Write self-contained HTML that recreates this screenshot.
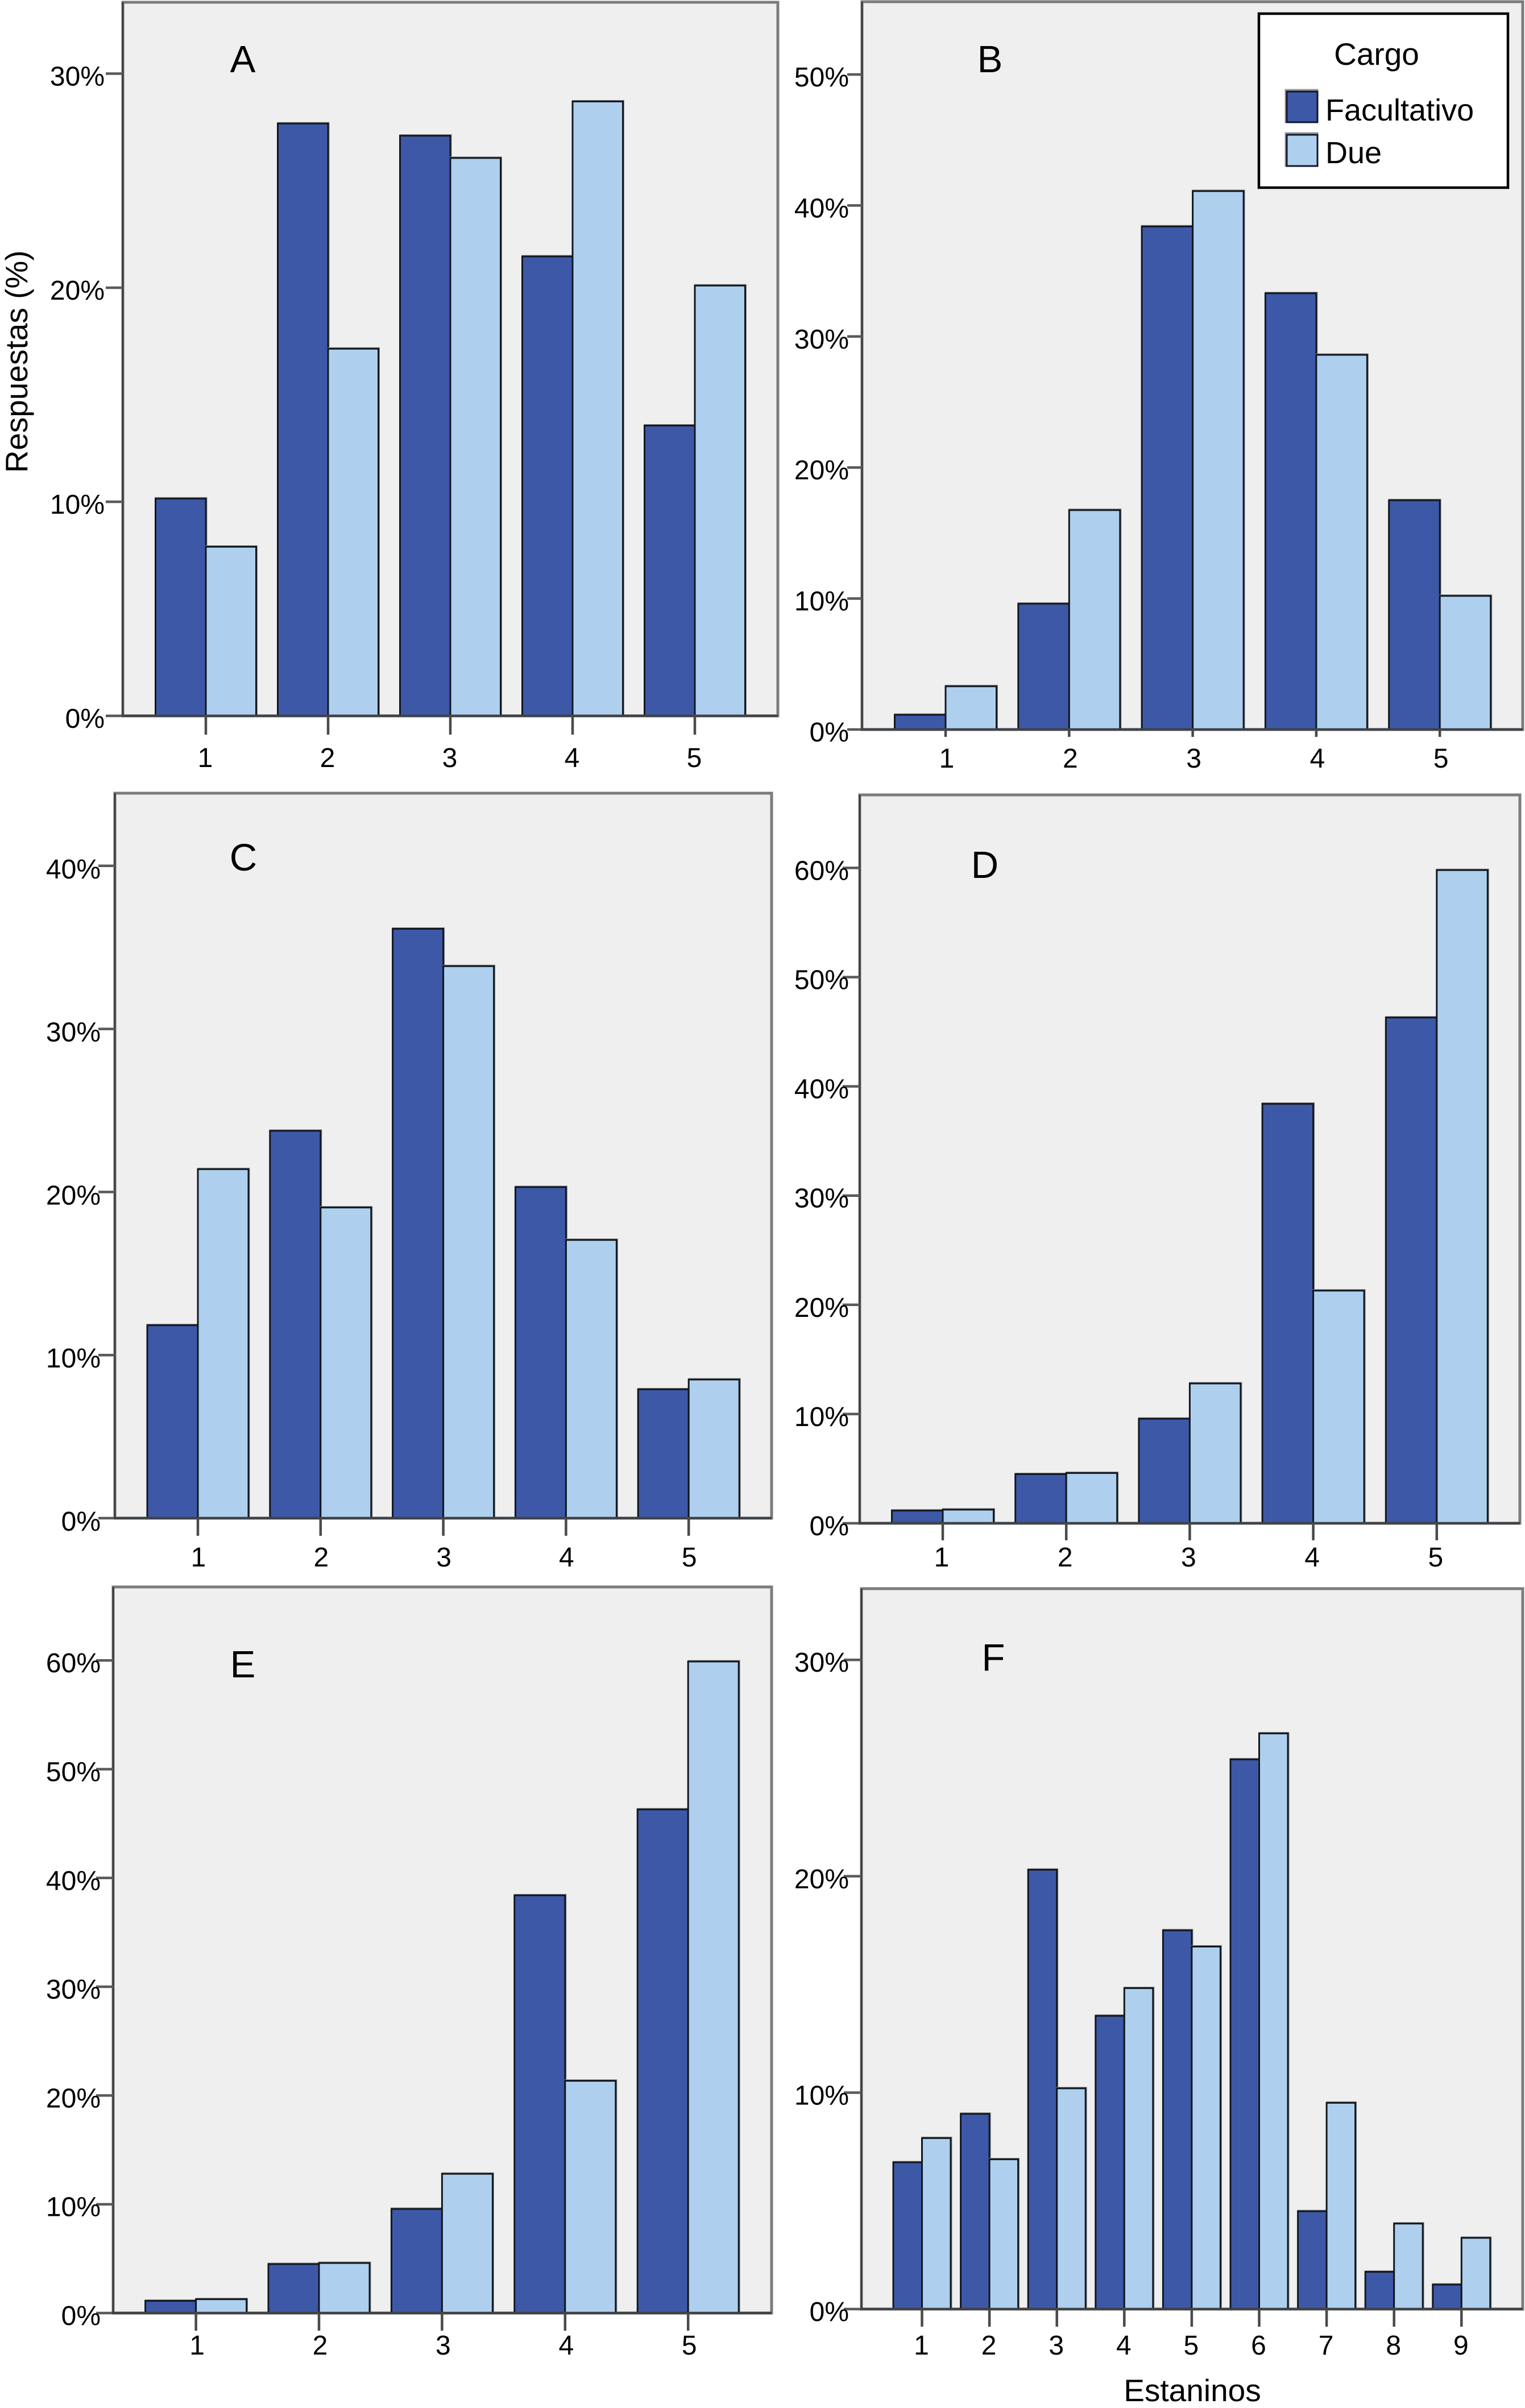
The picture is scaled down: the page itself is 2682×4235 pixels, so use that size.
<!DOCTYPE html>
<html lang="es">
<head>
<meta charset="utf-8">
<title>Respuestas por estaninos y cargo</title>
<style>
html,body{margin:0;padding:0;background:#fff;}
svg{display:block;font-family:"Liberation Sans",Arial,sans-serif;fill:#000;}
</style>
</head>
<body>
<svg id="chart" xmlns="http://www.w3.org/2000/svg" width="2682" height="4235" viewBox="0 0 2682 4235">
  <rect x="0" y="0" width="2682" height="4235" fill="#ffffff"/>
  <g id="plots"></g>

  <text x="427" y="127" font-size="67" text-anchor="middle">A</text>
  <text x="1741" y="127" font-size="67" text-anchor="middle">B</text>
  <text x="428" y="1531" font-size="67" text-anchor="middle">C</text>
  <text x="1732" y="1544" font-size="67" text-anchor="middle">D</text>
  <text x="427" y="2950" font-size="67" text-anchor="middle">E</text>
  <text x="1747" y="2938" font-size="67" text-anchor="middle">F</text>

  <text x="0" y="0" font-size="55" text-anchor="middle" transform="translate(48 636) rotate(-90)">Respuestas (%)</text>
  <text x="2097" y="4223" font-size="55" text-anchor="middle">Estaninos</text>

  <g>
    <rect x="2214" y="24" width="438" height="306" fill="#ffffff" stroke="#000000" stroke-width="4.5"/>
    <text x="2421" y="114" font-size="55" text-anchor="middle">Cargo</text>
    <rect x="2261" y="158" width="56" height="57" fill="none" stroke="#999999" stroke-width="3"/>
    <rect x="2263" y="161" width="54" height="54" fill="#3e58a8" stroke="#101828" stroke-width="3"/>
    <text x="2331" y="212" font-size="54">Facultativo</text>
    <rect x="2261" y="234" width="56" height="58" fill="none" stroke="#999999" stroke-width="3"/>
    <rect x="2263" y="237" width="54" height="55" fill="#aed0ee" stroke="#101828" stroke-width="3"/>
    <text x="2331" y="287" font-size="54">Due</text>
  </g>
</svg>
<script>
// ---- Data (percent of responses) ----
const categoriesFive = ['1', '2', '3', '4', '5'];
const categoriesNine = ['1', '2', '3', '4', '5', '6', '7', '8', '9'];

const ticksA = [0, 10, 20, 30];
const ticksB = [0, 10, 20, 30, 40, 50];
const ticksC = [0, 10, 20, 30, 40];
const ticksD = [0, 10, 20, 30, 40, 50, 60];
const ticksE = [0, 10, 20, 30, 40, 50, 60];
const ticksF = [0, 10, 20, 30];

const facultativoA = [10.15, 27.67, 27.1, 21.46, 13.56];
const dueA = [7.9, 17.15, 26.06, 28.7, 20.1];

const facultativoB = [1.12, 9.6, 38.4, 33.3, 17.5];
const dueB = [3.3, 16.75, 41.1, 28.6, 10.2];

const facultativoC = [11.83, 23.75, 36.14, 20.3, 7.9];
const dueC = [21.4, 19.05, 33.85, 17.06, 8.5];

const facultativoD = [1.16, 4.5, 9.57, 38.4, 46.3];
const dueD = [1.25, 4.6, 12.8, 21.3, 59.8];

const facultativoE = [1.12, 4.5, 9.57, 38.4, 46.3];
const dueE = [1.27, 4.6, 12.8, 21.35, 59.9];

const facultativoF = [6.78, 9.02, 20.3, 13.55, 17.5, 25.4, 4.52, 1.72, 1.13];
const dueF = [7.9, 6.92, 10.2, 14.83, 16.75, 26.6, 9.53, 3.95, 3.29];

// ---- Panel geometry (not data) ----
const panels = [
  {id:'a', left:216,  right:1368, top:4,    base:1259, per10:376.5, c1:362,  step:215,   bw:88.5, cats:categoriesFive, ticks:ticksA, f:facultativoA, d:dueA, tickLen:30, xTick:33, labelRight:184,  labelDy:21, xLabelDy:90,  xLabelDx:-1},
  {id:'b', left:1516, right:2678, top:3,    base:1283, per10:230.4, c1:1663, step:217.3, bw:89.5, cats:categoriesFive, ticks:ticksB, f:facultativoB, d:dueB, tickLen:26, xTick:13, labelRight:1493, labelDy:21, xLabelDy:67,  xLabelDx:2},
  {id:'c', left:202,  right:1357, top:1395, base:2670, per10:286.8, c1:348,  step:215.8, bw:89,   cats:categoriesFive, ticks:ticksC, f:facultativoC, d:dueC, tickLen:29, xTick:31, labelRight:177,  labelDy:22, xLabelDy:85,  xLabelDx:1},
  {id:'d', left:1512, right:2673, top:1398, base:2679, per10:192.1, c1:1658, step:217.2, bw:89.5, cats:categoriesFive, ticks:ticksD, f:facultativoD, d:dueD, tickLen:30, xTick:30, labelRight:1493, labelDy:21, xLabelDy:76,  xLabelDx:-2},
  {id:'e', left:199,  right:1357, top:2791, base:4068, per10:191.3, c1:344.6, step:216.4, bw:89,  cats:categoriesFive, ticks:ticksE, f:facultativoE, d:dueE, tickLen:30, xTick:31, labelRight:177,  labelDy:21, xLabelDy:73,  xLabelDx:2},
  {id:'f', left:1515, right:2678, top:2794, base:4061, per10:380.6, c1:1621.5, step:118.6, bw:50.5, cats:categoriesNine, ticks:ticksF, f:facultativoF, d:dueF, tickLen:31, xTick:31, labelRight:1493, labelDy:21, xLabelDy:80,  xLabelDx:-1}
];

const NS = 'http://www.w3.org/2000/svg';
const root = document.getElementById('plots');

function make(tag, attrs, parent) {
  const el = document.createElementNS(NS, tag);
  for (const k in attrs) el.setAttribute(k, attrs[k]);
  parent.appendChild(el);
  return el;
}

function yScale(p, v) { return p.base - v / 10 * p.per10; }
function xScale(p, i) { return p.c1 + i * p.step; }

function drawBar(p, g, i, values, side, fill, seriesName) {
  const cx = xScale(p, i);
  const x = side === 0 ? cx - p.bw : cx;
  const y = yScale(p, values[i]);
  const h = p.base - y;
  const shadow = make('rect', {x: x, y: y - 1.5, width: p.bw + 1.5, height: h + 1.5, fill: 'none', stroke: '#8a8a8a', 'stroke-width': 2}, g);
  
  
  const bar = make('rect', {x: x, y: y, width: p.bw, height: h, fill: fill, stroke: '#111820', 'stroke-width': 3}, g);
  
  
}

function drawPanel(p) {
  const g = make('g', {}, root);
  
  

  const frame = make('rect', {x: p.left, y: p.top, width: p.right - p.left, height: p.base - p.top, fill: '#efefef', stroke: '#7c7c7c', 'stroke-width': 5}, g);
  
  

  const yAxis = make('line', {x1: p.left, x2: p.left, y1: p.top, y2: p.base, stroke: '#3a3a3a', 'stroke-width': 3}, g);
  
  

  p.ticks.forEach(function (t) {
    const y = yScale(p, t);
    const tick = make('line', {x1: p.left - p.tickLen, x2: p.left, y1: y, y2: y, stroke: '#5a5a5a', 'stroke-width': 4.5}, g);
    
    
    const label = make('text', {x: p.labelRight, y: y + p.labelDy, 'font-size': 48, 'text-anchor': 'end'}, g);
    label.textContent = t + '%';
    
    
  });

  p.cats.forEach(function (c, i) {
    drawBar(p, g, i, p.f, 0, '#3e58a8', 'facultativo');
    drawBar(p, g, i, p.d, 1, '#aed0ee', 'due');
  });

  const xAxis = make('line', {x1: p.left - 2, x2: p.right, y1: p.base, y2: p.base, stroke: '#3f4348', 'stroke-width': 4.5}, g);
  
  

  p.cats.forEach(function (c, i) {
    const x = xScale(p, i);
    const tick = make('line', {x1: x, x2: x, y1: p.base, y2: p.base + p.xTick, stroke: '#4a4a4a', 'stroke-width': 4.5}, g);
    
    
    const label = make('text', {x: x + p.xLabelDx, y: p.base + p.xLabelDy, 'font-size': 48, 'text-anchor': 'middle'}, g);
    label.textContent = c;
    
    
  });
}

panels.forEach(drawPanel);
</script>
</body>
</html>
